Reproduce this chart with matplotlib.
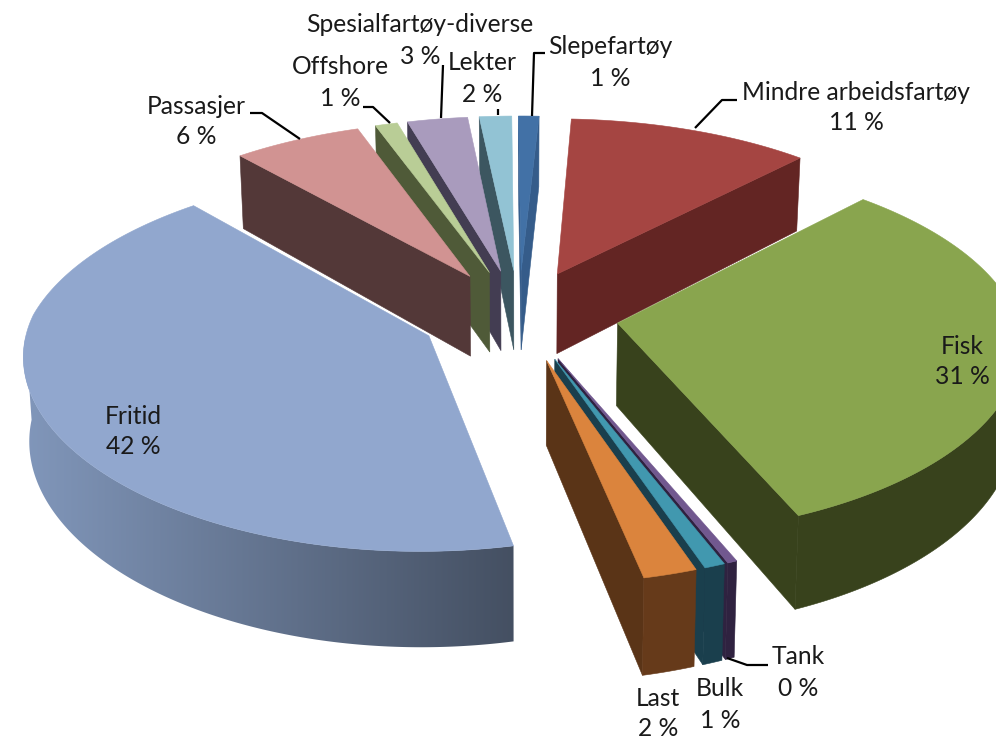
import numpy as np
import matplotlib
matplotlib.use("Agg")
import matplotlib.pyplot as plt
from matplotlib.patches import Polygon
from matplotlib.colors import LinearSegmentedColormap

# Data, clockwise from the top
categories = ["Mindre arbeidsfartøy", "Fisk", "Tank", "Bulk", "Last", "Fritid",
              "Passasjer", "Offshore", "Spesialfartøy-diverse", "Lekter", "Slepefartøy"]
values = [11.25, 31.49, 0.35, 0.75, 1.95, 42.0, 5.95, 1.03, 2.8, 1.5, 0.95]
percent_labels = ["11 %", "31 %", "0 %", "1 %", "2 %", "42 %", "6 %", "1 %", "3 %", "2 %", "1 %"]

top_colors = ["#A54542", "#89A54E", "#71588F", "#4198AF", "#DB843D", "#91A7CE",
              "#D19392", "#B9CD96", "#A99BBD", "#92C3D4", "#4271A6"]
radial_colors = ["#632523", "#38421C", "#2F2240", "#1A3F4D", "#5A3417", "#5A6A84",
                 "#533838", "#4F5A38", "#433D52", "#3C5660", "#355C8A"]
outer_colors = ["#632523", "#38421C", "#2F2240", "#1A3F4D", "#663A1A", None,
                "#533838", "#4F5A38", "#433D52", "#3C5660", "#355C8A"]
wall_left, wall_right = "#8298BC", "#434E60"

# Label centres (x, first line y, second line y) and leader lines
label_pos = [(856, 92, 122), (962, 346, 377), (798, 657, 689), (720, 689, 721), (658, 698, 729),
             (133, 416, 447), (196, 107, 137), (340, 67, 98), (420, 25, 56), (482, 63, 94), (610, 47, 78)]
leaders = [[(737, 100), (722, 100), (695, 128)],
           [(250, 113), (262, 113), (300, 139)],
           [(363, 107), (373, 107), (390, 123)],
           [(443, 65), (441, 118)],
           [(498, 109), (498, 115)],
           [(545, 53), (534, 53), (532, 116)],
           [(727, 658), (747, 665), (768, 665)]]

# Projection of the pie's plane to the picture
CX, CY = 519, 315
RX, RY = 399, 183.6
PERSP = 0.1226
PERSP_X_FRONT = 0.09
DEPTH_PERSP = 0.13
EXPLODE = 0.25
DEPTH = 82
START = 3.0


def project(u, v, z=0.0):
    s = 1.0 / (1.0 + PERSP * v)
    sx = 1.0 / (1.0 + (PERSP if v >= 0 else PERSP_X_FRONT) * v)
    sd = 1.0 / (1.0 + DEPTH_PERSP * v)
    x = RX * u * sx
    y = -RY * v * s
    return CX + x * (1 - 0.012 * z), CY + y + DEPTH * z * sd


def plane(theta, r=1.0):
    t = np.radians(theta)
    return r * np.sin(t), r * np.cos(t)


fig = plt.figure(figsize=(9.96, 7.40), dpi=100)
ax = fig.add_axes([0, 0, 1, 1])
cmap = LinearSegmentedColormap.from_list("wall", [wall_left, wall_right])

fractions = np.array(values) / np.sum(values)
edges = START + 360 * np.concatenate([[0], np.cumsum(fractions)])
wedges = []
for i in range(len(values)):
    a0, a1 = edges[i], edges[i + 1]
    mid = (a0 + a1) / 2
    du, dv = plane(mid, EXPLODE)
    wedges.append((dv, i, a0, a1, du))
wedges.sort(key=lambda w: -w[0])

for order, (dv, i, a0, a1, du) in enumerate(wedges):
    z0 = 2 * order
    thetas = np.linspace(a0, a1, max(8, int((a1 - a0) * 2)))
    # radial walls: only those turned towards the viewer
    for ang, sign in ((a0, -1), (a1, 1)):
        t = np.radians(ang)
        if sign * -np.sin(t) < 0:
            eu, ev = plane(ang)
            pts = [project(du, dv), project(du + eu, dv + ev),
                   project(du + eu, dv + ev, 1), project(du, dv, 1)]
            ax.add_patch(Polygon(pts, closed=True, fc=radial_colors[i], ec=radial_colors[i], lw=0.4, zorder=z0))
    # outer wall: the visible part of the rim
    rim = thetas[np.cos(np.radians(thetas)) <= 0]
    if len(rim) > 1:
        us, vs = plane(rim)
        us = us + du
        vs = vs + dv
        pts = [project(a, b) for a, b in zip(us, vs)] + [project(a, b, 1) for a, b in zip(us[::-1], vs[::-1])]
        c = outer_colors[i]
        if c is None:
            poly = Polygon(pts, closed=True, fc="none", ec="none", zorder=z0)
            ax.add_patch(poly)
            im = ax.imshow(np.linspace(0, 1, 256).reshape(1, -1), cmap=cmap, aspect="auto",
                           extent=(15, 525, 740, 0), zorder=z0, interpolation="bilinear")
            im.set_clip_path(poly)
        else:
            ax.add_patch(Polygon(pts, closed=True, fc=c, ec=c, lw=0.4, zorder=z0))
    # top face
    us, vs = plane(thetas)
    top = [project(du, dv)] + [project(a + du, b + dv) for a, b in zip(us, vs)]
    ax.add_patch(Polygon(top, closed=True, fc=top_colors[i], ec=top_colors[i], lw=0.4, zorder=z0 + 1))

for seg in leaders:
    xs, ys = zip(*seg)
    ax.plot(xs, ys, color="black", lw=1.6, solid_capstyle="butt", zorder=100)

for name, pct, (x, y1, y2) in zip(categories, percent_labels, label_pos):
    ax.text(x, y1, name, ha="center", va="center", fontsize=17.7, family="Lato", color="#1a1a1a", zorder=101)
    ax.text(x, y2, pct, ha="center", va="center", fontsize=17.7, family="Lato", color="#1a1a1a", zorder=101)

ax.set_xlim(0, 996)
ax.set_ylim(740, 0)
ax.axis("off")
fig.savefig("out.png", dpi=100)
